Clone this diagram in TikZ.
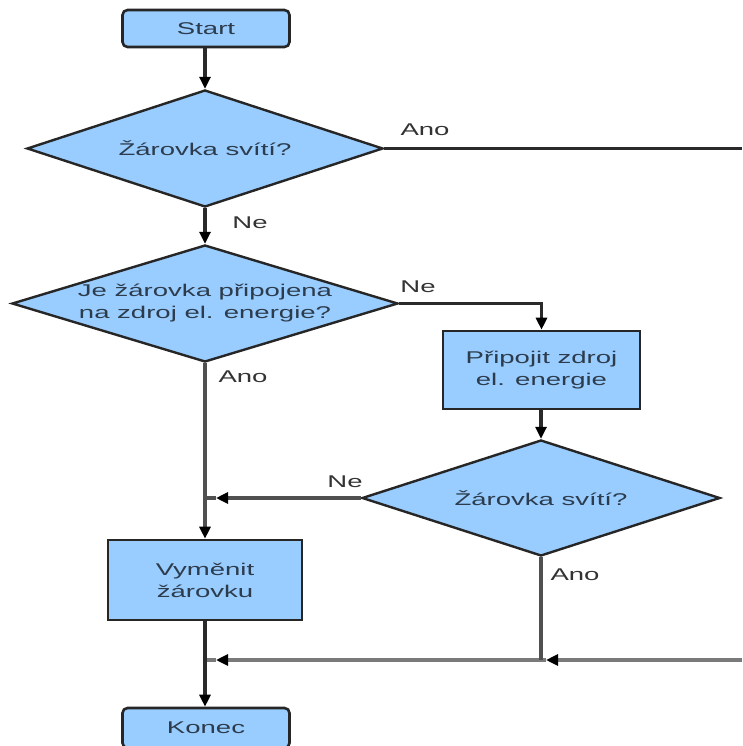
\documentclass[tikz,border=0pt]{standalone}
\usepackage{fontspec}
\setmainfont{Liberation Sans}[FakeStretch=1.62]
\usetikzlibrary{shapes.geometric,arrows.meta}
\definecolor{boxfill}{HTML}{99CCFF}
\definecolor{edgec}{HTML}{262626}
\definecolor{txtc}{HTML}{2C3C4C}
\definecolor{lblc}{HTML}{333333}
\definecolor{darkl}{HTML}{2A2A2A}
\definecolor{midl}{HTML}{505050}
\definecolor{lightl}{HTML}{7A7A7A}
\tikzset{
  term/.style={draw=edgec, fill=boxfill, rounded corners=5pt, line width=2.6pt, minimum width=167pt, minimum height=37pt, text=txtc, inner sep=0pt},
  proc/.style={draw=edgec, fill=boxfill, line width=2.6pt, text=txtc, align=center, inner sep=0pt},
  dec/.style={diamond, draw=edgec, fill=boxfill, line width=2.4pt, inner sep=0pt},
  dectext/.style={text=txtc, align=center},
  lbl/.style={text=lblc, inner sep=0pt},
  conn/.style={line width=3.2pt, draw=darkl},
  arr/.style={conn, -{Triangle[length=12pt,width=11pt,color=black]}}
}
\begin{document}
\begin{tikzpicture}[x=1pt,y=-1pt,font=\fontsize{17}{22}\selectfont]
\useasboundingbox (0,0) rectangle (742,746);
\clip (0,0) rectangle (742,746);
% nodes
\node[term] (start) at (206,28.5) {Start};
\node[dec, minimum width=356pt, minimum height=117pt, label={[dectext]center:Žárovka svítí?}] (d1) at (205,148.5) {};
\node[dec, minimum width=386pt, minimum height=117pt, label={[dectext]center:Je žárovka připojena\\na zdroj el. energie?}] (d2) at (205,303.5) {};
\node[proc, minimum width=197pt, minimum height=78pt] (pz) at (541.5,370) {Připojit zdroj\\el. energie};
\node[dec, minimum width=358pt, minimum height=116pt, label={[dectext]center:Žárovka svítí?}] (d3) at (541,498) {};
\node[proc, minimum width=194pt, minimum height=80pt] (vz) at (205,580) {Vyměnit\\žárovku};
\node[term, minimum height=40pt] (konec) at (206,728) {Konec};
% coordinates
\coordinate (ea) at (742,148.5);
\coordinate (j1) at (205,498);
\coordinate (j1a) at (216,498);
\coordinate (j2) at (541,660);
\coordinate (j2a) at (546,660);
\coordinate (j3) at (205,660);
\coordinate (j3a) at (216,660);
\coordinate (er) at (742,660);
% horizontal merge lines first
\draw[arr, draw=midl] (d3.west) -- (j1a);
\draw[conn, draw=midl] (j1a) -- (j1);
\draw[arr, draw=lightl] (er) -- (j2a);
\draw[conn, draw=lightl] (j2a) -- (j2);
\draw[arr, draw=lightl] (j2) -- (j3a);
\draw[conn, draw=lightl] (j3a) -- (j3);
% other connectors
\draw[arr] (start.south -| d1.north) -- (d1.north);
\draw[conn] (d1.east) -- (ea);
\draw[arr] (d1.south) -- (d2.north);
\draw[arr] (d2.east) -| (pz.north);
\draw[arr] (pz.south -| d3.north) -- (d3.north);
\draw[arr, draw=midl] (d2.south) -- (vz.north);
\draw[arr] (vz.south) -- (konec.north -| vz.south);
\draw[conn, draw=midl] (d3.south) -- (j2);
% labels
\node[lbl] (lano1) at (425,130) {Ano};
\node[lbl] (lne1) at (250,223) {Ne};
\node[lbl] (lne2) at (418,287) {Ne};
\node[lbl] (lano2) at (243,377) {Ano};
\node[lbl] (lne3) at (345,482) {Ne};
\node[lbl] (lano3) at (575,575) {Ano};
\end{tikzpicture}
\end{document}
